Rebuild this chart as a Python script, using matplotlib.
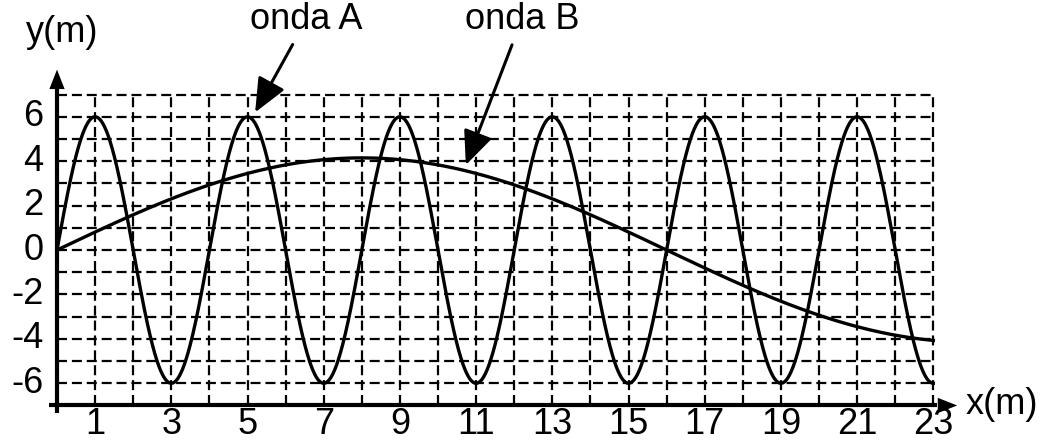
import numpy as np
import matplotlib
matplotlib.use("Agg")
import matplotlib.pyplot as plt

# Wave parameters
amp_A = 6.0        # m
wavelength_A = 4.0 # m (peaks at 1, 5, 9, ...)
amp_B = 4.15       # m
wavelength_B = 32.0  # m (peak near 8, zero near 16)

x_ticks = [1, 3, 5, 7, 9, 11, 13, 15, 17, 19, 21, 23]
y_ticks = [6, 4, 2, 0, -2, -4, -6]
x_grid = list(range(1, 24))
y_grid = list(range(-6, 8))
x_max = 23
y_min, y_max = -7, 7

plt.rcParams['font.family'] = ['Liberation Sans', 'DejaVu Sans']
FS = 26

fig = plt.figure(figsize=(10.48, 4.43), dpi=100)
ax = fig.add_axes([0, 0, 1, 1])
ax.set_xlim(-1.496, 26.01)
ax.set_ylim(-8.69, 11.26)
ax.axis('off')

# grid
for gx in x_grid:
    ax.plot([gx, gx], [y_min, y_max], color='black', lw=1.6, ls=(0, (4.5, 2.2)), zorder=1)
for gy in y_grid:
    ax.plot([0, x_max], [gy, gy], color='black', lw=1.6, ls=(0, (4.5, 2.2)), zorder=1)

# curves
x = np.linspace(0, x_max, 2000)
yA = amp_A * np.sin(2 * np.pi * x / wavelength_A)
yB = amp_B * np.sin(2 * np.pi * x / wavelength_B)
ax.plot(x, yA, color='black', lw=2.4, zorder=3)
ax.plot(x, yB, color='black', lw=2.4, zorder=3)

# axes with arrows
ax.plot([-0.2, x_max + 0.1], [y_min, y_min], color='black', lw=3, zorder=4, solid_capstyle='butt')
ax.plot([0, 0], [y_min - 0.35, 7.6], color='black', lw=3, zorder=4, solid_capstyle='butt')
ax.annotate('', xy=(23.7, y_min), xytext=(22.9, y_min),
            arrowprops=dict(arrowstyle='-|>,head_length=1.4,head_width=0.55', color='black', lw=0), zorder=5)
ax.annotate('', xy=(0, 8.25), xytext=(0, 7.3),
            arrowprops=dict(arrowstyle='-|>,head_length=1.4,head_width=0.55', color='black', lw=0), zorder=5)

# tick labels
for t in y_ticks:
    ax.text(-0.35, t, str(t), ha='right', va='center', fontsize=FS)
for t in x_ticks:
    ax.text(t, -8.64, str(t), ha='center', va='bottom', fontsize=FS)

ax.text(0.15, 9.0, 'y(m)', ha='center', va='bottom', fontsize=FS)
ax.text(23.85, -6.95, 'x(m)', ha='left', va='center', fontsize=FS)

# annotations
ax.annotate('onda A', xy=(5.2, 6.2), xytext=(6.55, 9.6), ha='center', va='bottom', fontsize=FS,
            arrowprops=dict(arrowstyle='-|>,head_length=0.8,head_width=0.35', color='black', lw=2.2,
                            shrinkA=4, shrinkB=0))
ax.annotate('onda B', xy=(10.73, 3.83), xytext=(12.2, 9.6), ha='center', va='bottom', fontsize=FS,
            arrowprops=dict(arrowstyle='-|>,head_length=0.8,head_width=0.35', color='black', lw=2.2,
                            shrinkA=4, shrinkB=0))

fig.savefig('out.png', dpi=100)
